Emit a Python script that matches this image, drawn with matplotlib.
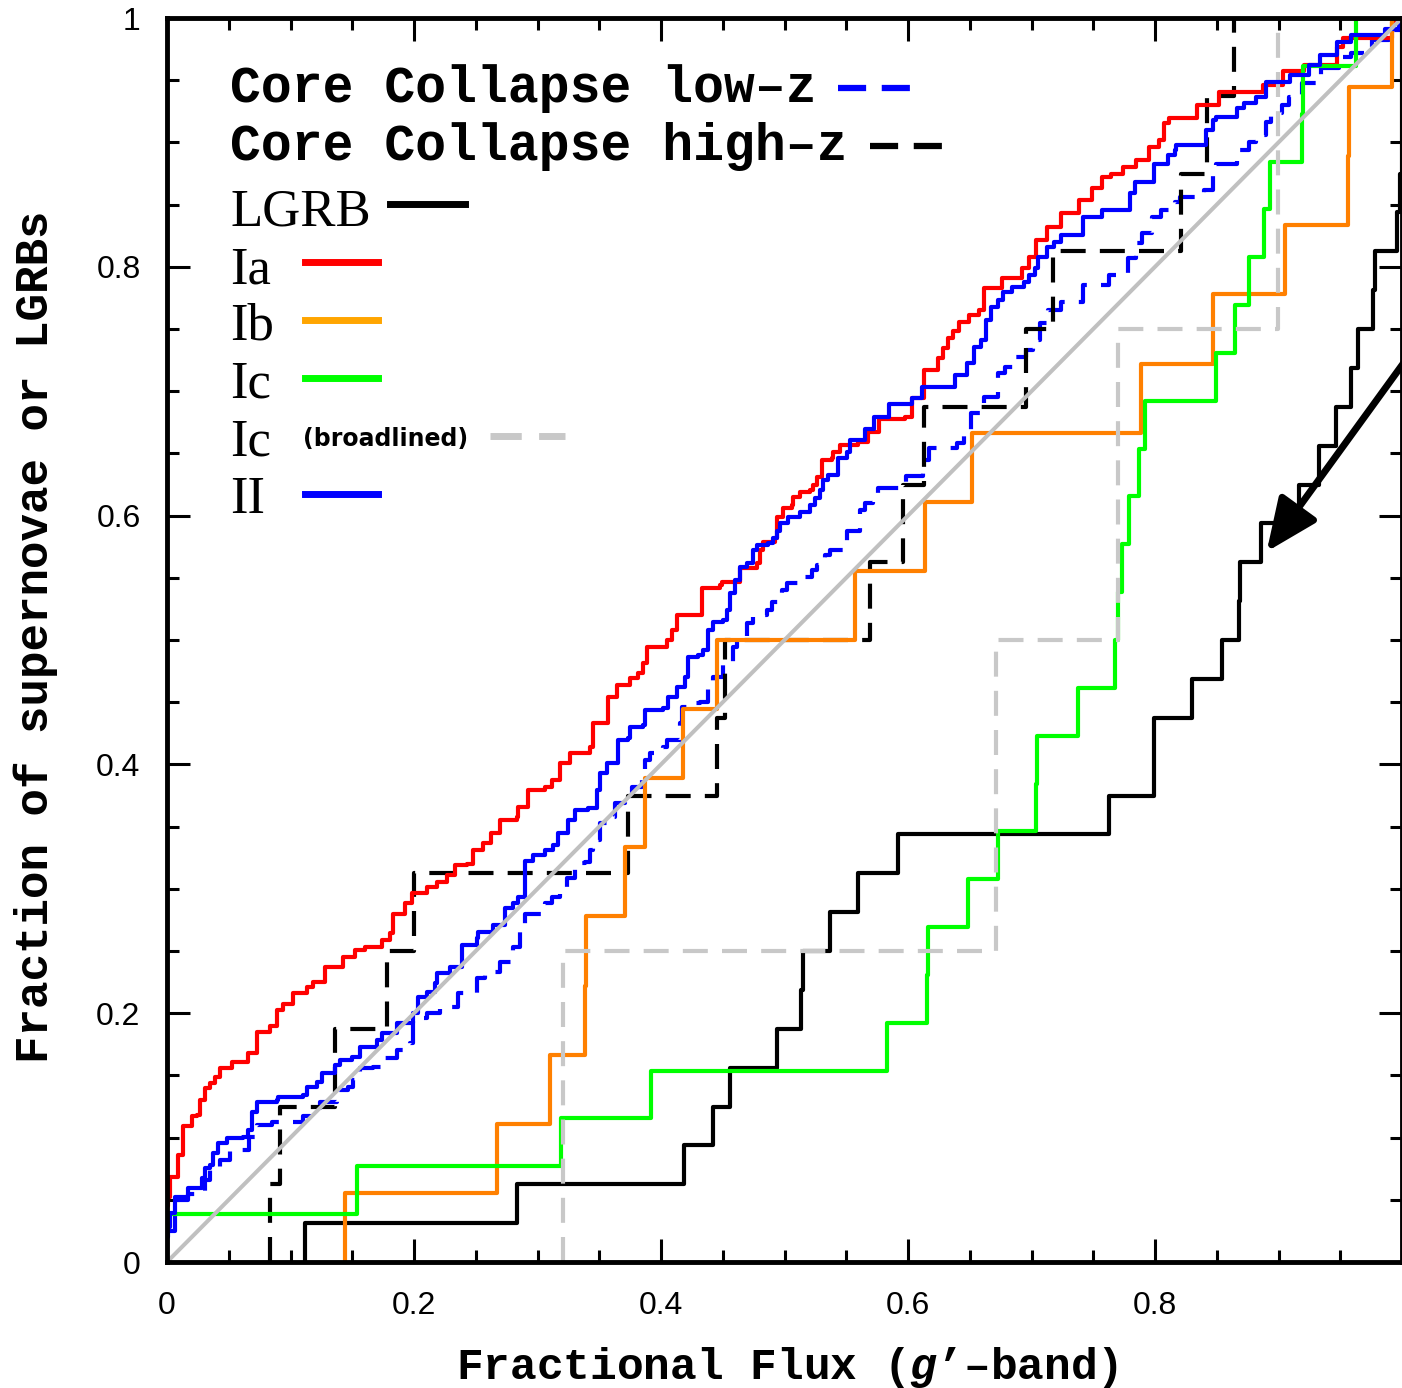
import numpy as np
import matplotlib
matplotlib.use("Agg")
import matplotlib.pyplot as plt
from matplotlib.ticker import MultipleLocator

plt.rcParams['font.family'] = ['Liberation Sans', 'DejaVu Sans']
plt.rcParams['mathtext.fontset'] = 'custom'
plt.rcParams['mathtext.it'] = 'Liberation Mono:italic:bold'
plt.rcParams['mathtext.rm'] = 'Liberation Mono:bold'

# cumulative fractions, (fractional flux where the step occurs, level after the step)
ia_steps = [(0.0, 0.045), (0.001, 0.0525), (0.0024, 0.0686), (0.0092, 0.086), (0.0132, 0.109),
            (0.02, 0.117), (0.024, 0.1182), (0.0267, 0.130), (0.0308, 0.14), (0.0348, 0.1437),
            (0.0389, 0.149), (0.0429, 0.156), (0.0524, 0.161), (0.0656, 0.168), (0.0729, 0.185),
            (0.0834, 0.19), (0.0891, 0.2026), (0.0939, 0.207), (0.102, 0.216), (0.1134, 0.221),
            (0.1182, 0.225), (0.1279, 0.237), (0.1425, 0.245), (0.1522, 0.251), (0.1603, 0.253),
            (0.1741, 0.259), (0.1806, 0.2645), (0.183, 0.28), (0.1927, 0.2885), (0.1984, 0.2966),
            (0.2105, 0.3015), (0.2186, 0.3055), (0.2267, 0.311), (0.2332, 0.319), (0.2429, 0.32),
            (0.2478, 0.331), (0.256, 0.337), (0.262, 0.345), (0.2696, 0.355), (0.2832, 0.358),
            (0.2845, 0.366), (0.2926, 0.3794), (0.306, 0.382), (0.3115, 0.3875), (0.3182, 0.4009),
            (0.3263, 0.4089), (0.3425, 0.4142), (0.3452, 0.433), (0.3573, 0.4544), (0.3641, 0.4638),
            (0.3749, 0.4692), (0.3816, 0.4732), (0.3857, 0.4813), (0.3884, 0.4946), (0.4046, 0.500),
            (0.4087, 0.508), (0.4127, 0.5201), (0.433, 0.5416), (0.4478, 0.5442), (0.4491, 0.5469),
            (0.464, 0.5576), (0.4775, 0.5616), (0.4802, 0.5723), (0.4828, 0.579), (0.4923, 0.5817),
            (0.4937, 0.5991), (0.499, 0.6059), (0.5058, 0.6085), (0.5071, 0.6152), (0.5126, 0.6192),
            (0.5206, 0.6206), (0.5233, 0.6246), (0.526, 0.6313), (0.5301, 0.6447), (0.5382, 0.646),
            (0.5395, 0.6514), (0.5449, 0.6568), (0.5598, 0.6594), (0.5678, 0.6674), (0.5765, 0.678),
            (0.5975, 0.6795), (0.6031, 0.6945), (0.6129, 0.717), (0.6241, 0.7267), (0.6283, 0.7347),
            (0.6325, 0.7428), (0.6367, 0.748), (0.6409, 0.756), (0.6493, 0.761), (0.6577, 0.765),
            (0.6619, 0.783), (0.6759, 0.791), (0.6927, 0.799), (0.6983, 0.808), (0.7039, 0.8215),
            (0.7123, 0.832), (0.7235, 0.843), (0.7388, 0.854), (0.7486, 0.863), (0.757, 0.8725),
            (0.764, 0.875), (0.7738, 0.880), (0.785, 0.886), (0.7948, 0.8966), (0.8032, 0.902),
            (0.8074, 0.9155), (0.8116, 0.9197), (0.834, 0.930), (0.852, 0.9408), (0.8872, 0.946),
            (0.9039, 0.957), (0.9208, 0.962), (0.947, 0.977), (0.9526, 0.984), (0.9918, 0.997),
            (1.0, 1.0)]

ii_steps = [(0.0, 0.02), (0.001, 0.0284), (0.0024, 0.039), (0.0065, 0.0525), (0.0173, 0.0594),
            (0.028, 0.0673), (0.0308, 0.0754), (0.0348, 0.078), (0.0375, 0.0874), (0.0415, 0.0954),
            (0.0483, 0.0995), (0.0618, 0.1006), (0.0658, 0.106), (0.0686, 0.1208), (0.0726, 0.1289),
            (0.0888, 0.130), (0.090, 0.1329), (0.1104, 0.1342), (0.113, 0.141), (0.1212, 0.145),
            (0.1252, 0.1517), (0.136, 0.1584), (0.14, 0.1624), (0.1495, 0.165), (0.1563, 0.173),
            (0.1698, 0.1785), (0.1738, 0.1838), (0.186, 0.1919), (0.1994, 0.2), (0.2035, 0.2133),
            (0.2103, 0.2173), (0.217, 0.224), (0.2184, 0.232), (0.2291, 0.2374), (0.2386, 0.2548),
            (0.2508, 0.2602), (0.252, 0.2655), (0.2642, 0.2709), (0.2737, 0.2843), (0.2804, 0.2883),
            (0.2845, 0.2937), (0.2899, 0.322), (0.2966, 0.3272), (0.306, 0.3312), (0.3128, 0.3352),
            (0.3169, 0.3446), (0.325, 0.3553), (0.3304, 0.3633), (0.3411, 0.3647), (0.3479, 0.3794),
            (0.3506, 0.3928), (0.356, 0.4009), (0.3654, 0.4196), (0.3735, 0.421), (0.3749, 0.4303),
            (0.3857, 0.4317), (0.387, 0.4437), (0.4019, 0.445), (0.4059, 0.4544), (0.4127, 0.4625),
            (0.4194, 0.4705), (0.4221, 0.4866), (0.4302, 0.488), (0.4343, 0.492), (0.4383, 0.508),
            (0.4424, 0.5147), (0.4504, 0.516), (0.4532, 0.524), (0.4559, 0.5375), (0.4599, 0.548),
            (0.464, 0.559), (0.4694, 0.5616), (0.4748, 0.572), (0.4775, 0.576), (0.4869, 0.5777),
            (0.491, 0.5817), (0.4937, 0.588), (0.4964, 0.5937), (0.5031, 0.5991), (0.5126, 0.6031),
            (0.5206, 0.6085), (0.5247, 0.6139), (0.5287, 0.6206), (0.5314, 0.6286), (0.5355, 0.6326),
            (0.5436, 0.646), (0.5504, 0.6514), (0.553, 0.6608), (0.5652, 0.670), (0.5723, 0.6795),
            (0.585, 0.690), (0.603, 0.6943), (0.6115, 0.7036), (0.6381, 0.713), (0.648, 0.7224),
            (0.6535, 0.7358), (0.6591, 0.7412), (0.6633, 0.7572), (0.6675, 0.768), (0.6731, 0.7733),
            (0.6773, 0.780), (0.6843, 0.7841), (0.6941, 0.788), (0.6983, 0.7934), (0.7025, 0.7988),
            (0.7053, 0.808), (0.7123, 0.8162), (0.7179, 0.8202), (0.7235, 0.8256), (0.7417, 0.8403),
            (0.757, 0.8457), (0.7794, 0.859), (0.7836, 0.8684), (0.799, 0.883), (0.8102, 0.8899),
            (0.8158, 0.8939), (0.8172, 0.8979), (0.841, 0.910), (0.8466, 0.918), (0.8494, 0.9207),
            (0.8662, 0.9274), (0.8718, 0.9314), (0.8816, 0.9368), (0.89, 0.9488), (0.9096, 0.9542),
            (0.925, 0.9622), (0.9334, 0.9702), (0.9474, 0.9809), (0.9586, 0.9863), (0.9866, 0.9909),
            (0.9975, 0.995), (1.0, 1.0)]

cc_lowz_steps = [(0.0, 0.025), (0.0065, 0.05), (0.017, 0.055), (0.031, 0.066), (0.035, 0.0766),
                 (0.043, 0.082), (0.051, 0.09), (0.066, 0.1006), (0.0726, 0.110), (0.0848, 0.1128),
                 (0.1104, 0.117), (0.1158, 0.1236), (0.1239, 0.129), (0.1374, 0.1383), (0.1468, 0.141),
                 (0.1508, 0.1463), (0.1563, 0.1557), (0.167, 0.157), (0.1752, 0.1637), (0.186, 0.1704),
                 (0.1968, 0.1758), (0.1994, 0.1959), (0.2103, 0.2), (0.2211, 0.2053), (0.2359, 0.216),
                 (0.2508, 0.228), (0.2575, 0.2334), (0.2696, 0.2414), (0.2804, 0.2535), (0.2858, 0.2669),
                 (0.2899, 0.280), (0.306, 0.2883), (0.3115, 0.2937), (0.3182, 0.3017), (0.3236, 0.3085),
                 (0.3304, 0.3205), (0.3385, 0.3218), (0.3425, 0.3312), (0.3452, 0.3392), (0.3506, 0.3526),
                 (0.356, 0.358), (0.3628, 0.3687), (0.3709, 0.3727), (0.3763, 0.382), (0.3844, 0.3875),
                 (0.387, 0.4035), (0.3911, 0.4089), (0.4019, 0.4142), (0.4046, 0.4196), (0.4154, 0.433),
                 (0.4168, 0.4464), (0.4208, 0.449), (0.4316, 0.4504), (0.4383, 0.4638), (0.4424, 0.4705),
                 (0.45, 0.482), (0.4585, 0.4946), (0.4613, 0.5027), (0.4694, 0.5134), (0.4747, 0.5201),
                 (0.4855, 0.5241), (0.4896, 0.5308), (0.4977, 0.5402), (0.5017, 0.5455), (0.5166, 0.551),
                 (0.522, 0.5563), (0.526, 0.5603), (0.5328, 0.5683), (0.5368, 0.5723), (0.5504, 0.588),
                 (0.5611, 0.6045), (0.5652, 0.6099), (0.5719, 0.6179), (0.576, 0.622), (0.598, 0.632),
                 (0.612, 0.645), (0.617, 0.654), (0.6395, 0.658), (0.6451, 0.6648), (0.6507, 0.6822),
                 (0.6619, 0.6956), (0.6731, 0.7144), (0.6787, 0.7197), (0.687, 0.7277), (0.6955, 0.733),
                 (0.701, 0.7412), (0.7066, 0.7546), (0.7137, 0.7653), (0.7235, 0.772), (0.7417, 0.7854),
                 (0.7627, 0.7934), (0.778, 0.8068), (0.785, 0.8188), (0.7892, 0.8269), (0.7977, 0.8403),
                 (0.8046, 0.8457), (0.8158, 0.8524), (0.82, 0.8564), (0.8397, 0.8617), (0.8466, 0.8751),
                 (0.8494, 0.883), (0.8662, 0.8939), (0.876, 0.9006), (0.8816, 0.906), (0.89, 0.9167),
                 (0.8942, 0.9233), (0.9026, 0.930), (0.9082, 0.9368), (0.9193, 0.9475), (0.9348, 0.9595),
                 (0.9487, 0.969), (0.9585, 0.9715), (0.9754, 0.9823), (0.9894, 0.990), (1.0, 1.0)]

cc_highz_steps = [(0.083, 0.0), (0.083, 0.0625), (0.0915, 0.125), (0.136, 0.1875), (0.178, 0.25),
                  (0.200, 0.3125), (0.373, 0.375), (0.445, 0.4375), (0.452, 0.5), (0.569, 0.5625),
                  (0.596, 0.625), (0.6129, 0.6875), (0.6954, 0.75), (0.7178, 0.8125), (0.8213, 0.875),
                  (0.8423, 0.9375), (0.8639, 1.0), (1.0, 1.0)]

lgrb_steps = [(0.112, 0.0), (0.112, 0.03125), (0.283, 0.0625), (0.4187, 0.09375), (0.442, 0.125),
              (0.456, 0.15625), (0.494, 0.1875), (0.513, 0.21875), (0.515, 0.25), (0.537, 0.28125),
              (0.5596, 0.3125), (0.592, 0.34375), (0.763, 0.375), (0.7995, 0.4375), (0.830, 0.46875),
              (0.854, 0.5), (0.868, 0.53125), (0.869, 0.5625), (0.8856, 0.59375), (0.917, 0.625),
              (0.933, 0.65625), (0.9466, 0.6875), (0.959, 0.71875), (0.964, 0.75), (0.9765, 0.78125),
              (0.978, 0.8125), (0.996, 0.84375), (0.9985, 0.875), (1.0, 1.0)]

ib_steps = [(0.1441, 0.0), (0.1441, 0.0556), (0.267, 0.1111), (0.310, 0.1667), (0.3385, 0.2222),
            (0.3393, 0.2778), (0.371, 0.3333), (0.387, 0.3889), (0.418, 0.4444), (0.445, 0.5),
            (0.557, 0.5556), (0.614, 0.6111), (0.6515, 0.6667), (0.789, 0.7222), (0.8467, 0.7778),
            (0.905, 0.8333), (0.956, 0.8889), (0.957, 0.9444), (0.992, 1.0), (1.0, 1.0)]

ic_steps = [(0.0, 0.03), (0.001, 0.0385), (0.154, 0.0769), (0.319, 0.1154), (0.392, 0.1538),
            (0.583, 0.1923), (0.615, 0.2308), (0.6165, 0.2692), (0.6486, 0.3077), (0.6726, 0.3462),
            (0.704, 0.3846), (0.7045, 0.4231), (0.7377, 0.4615), (0.7676, 0.5), (0.770, 0.5385),
            (0.773, 0.5769), (0.779, 0.6154), (0.787, 0.6538), (0.792, 0.6923), (0.8494, 0.7308),
            (0.8648, 0.7692), (0.876, 0.8077), (0.8886, 0.8462), (0.8928, 0.8846), (0.919, 0.9231),
            (0.9195, 0.9615), (0.963, 1.0), (1.0, 1.0)]

icbl_steps = [(0.3203, 0.0), (0.3203, 0.25), (0.671, 0.5), (0.77, 0.75), (0.8996, 1.0), (1.0, 1.0)]

arrow_head = (0.8904, 0.571)
arrow_tail = (1.0227, 0.752)

fig = plt.figure(figsize=(14.02, 13.88), dpi=100)
ax = fig.add_axes([167 / 1402, 126 / 1388, 1235 / 1402, 1244 / 1388])

dash = (0, (6, 3.4))


def draw(steps, **kw):
    xs, ys = zip(*steps)
    ax.plot(xs, ys, drawstyle='steps-post', **kw)


draw(cc_lowz_steps, color='#0000FF', lw=3, linestyle=dash)
draw(cc_highz_steps, color='black', lw=3, linestyle=dash)
draw(lgrb_steps, color='black', lw=3)
draw(ia_steps, color='#FF0000', lw=3)
draw(ib_steps, color='#FF8000', lw=3)
draw(ic_steps, color='#00FF00', lw=3)
draw(icbl_steps, color='#C8C8C8', lw=3, linestyle=dash)
draw(ii_steps, color='#0000FF', lw=3)
ax.plot([0, 1], [0, 1], color='#C0C0C0', lw=2.9)

ax.annotate('', xy=arrow_head, xytext=arrow_tail, annotation_clip=False,
            arrowprops=dict(arrowstyle='-|>,head_length=0.8,head_width=0.35',
                            lw=5, color='black', mutation_scale=40,
                            shrinkA=0, shrinkB=0))

ax.set_xlim(0, 1)
ax.set_ylim(0, 1)
ax.xaxis.set_minor_locator(MultipleLocator(0.05))
ax.yaxis.set_minor_locator(MultipleLocator(0.05))
ax.set_xticks([0, 0.2, 0.4, 0.6, 0.8, 1.0])
ax.set_xticklabels(['0', '0.2', '0.4', '0.6', '0.8', ''])
ax.set_yticks([0, 0.2, 0.4, 0.6, 0.8, 1.0])
ax.set_yticklabels(['0', '0.2', '0.4', '0.6', '0.8', '1'])
ax.tick_params(which='both', direction='in', top=True, right=True, width=2.2)
ax.tick_params(which='major', length=16.5, labelsize=23)
ax.tick_params(which='minor', length=8.6)
ax.tick_params(axis='x', which='major', pad=21)
ax.tick_params(axis='y', which='major', pad=19)
for sp in ax.spines.values():
    sp.set_linewidth(3.5)

# axis labels
mono = ['Liberation Mono', 'DejaVu Sans Mono']
fig.text(787 / 1402, 9 / 1388, "Fractional Flux ($g$’–band)", ha='center', va='baseline',
         fontsize=32, fontweight='bold', family=mono)
fig.text(48 / 1402, (1388 - 637) / 1388, "Fraction of supernovae or LGRBs", rotation=90,
         rotation_mode='anchor', ha='center', va='baseline', fontsize=33, fontweight='bold',
         family=mono)

# legend drawn by hand
tr = ax.transAxes
serif = ['Liberation Serif', 'DejaVu Serif']


def ax_x(px):
    return (px - 167) / 1235


def ax_y(py):
    return (1262 - py) / 1244


ax.text(ax_x(230), ax_y(102), "Core Collapse low–z", transform=tr, fontsize=37,
        fontweight='bold', family=mono, va='baseline')
ax.plot([ax_x(838), ax_x(912)], [ax_y(88)] * 2, transform=tr, clip_on=False,
        color='#0000FF', lw=4.5, linestyle=(0, (4.5, 2.5)))
ax.text(ax_x(230), ax_y(160), "Core Collapse high–z", transform=tr, fontsize=37,
        fontweight='bold', family=mono, va='baseline')
ax.plot([ax_x(870), ax_x(945)], [ax_y(146)] * 2, transform=tr, clip_on=False,
        color='black', lw=4.5, linestyle=(0, (4.5, 2.5)))

rows = [("LGRB", 225, 204, 390, 465, 'black', '-'),
        ("Ia", 283, 262, 305, 378, '#FF0000', '-'),
        ("Ib", 340, 320, 305, 378, '#FFA500', '-'),
        ("Ic", 398, 378, 305, 378, '#00FF00', '-'),
        ("Ic", 456, 436, 490, 565, '#C8C8C8', (0, (4.5, 2.5))),
        ("II", 513, 494, 305, 378, '#0000FF', '-')]
for label, base, ly, x0, x1, col, ls in rows:
    ax.text(ax_x(230), ax_y(base), label, transform=tr, fontsize=38, family=serif,
            va='baseline')
    ax.plot([ax_x(x0), ax_x(x1)], [ax_y(ly)] * 2, transform=tr, clip_on=False,
            color=col, lw=5, linestyle=ls)
ax.text(ax_x(303), ax_y(446), "(broadlined)", transform=tr, fontsize=17,
        fontweight='bold', family=['DejaVu Sans'], va='baseline')

fig.savefig('out.png', dpi=100)
